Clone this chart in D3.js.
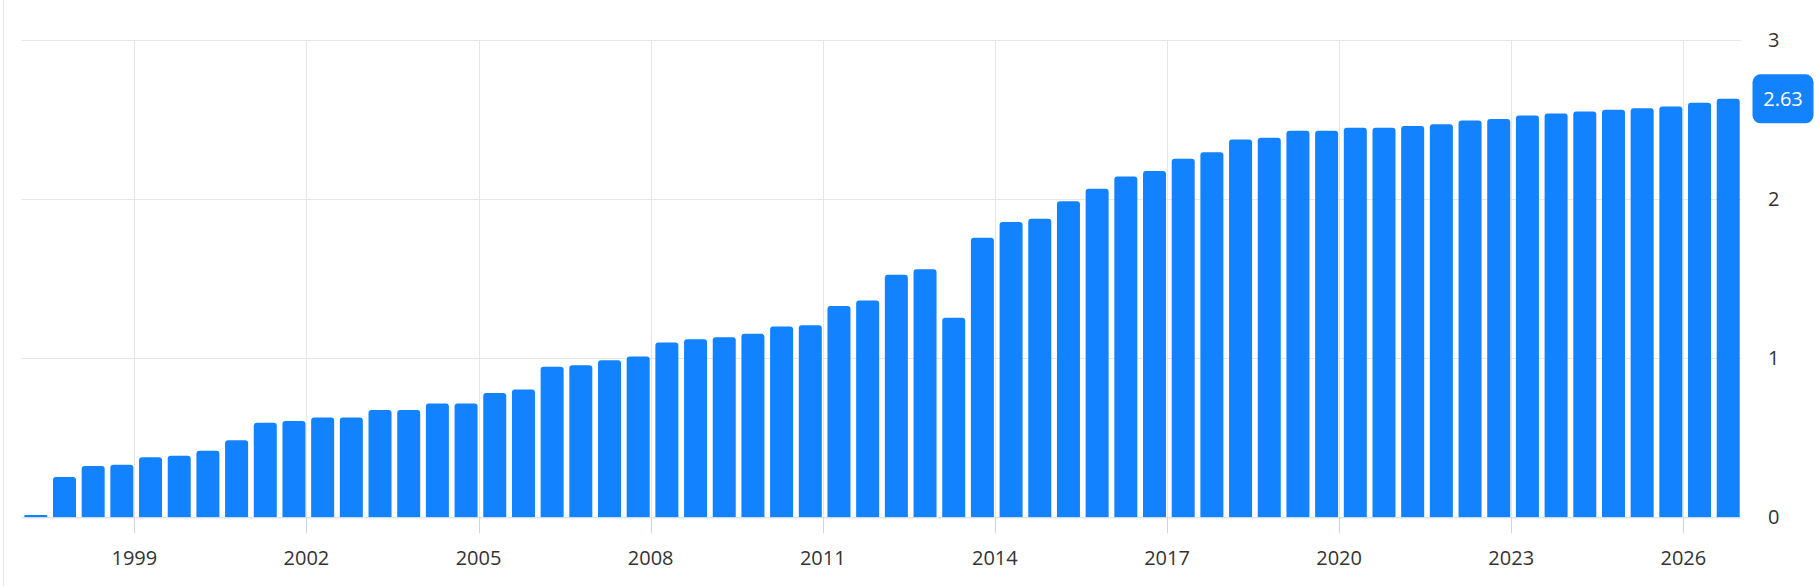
<!DOCTYPE html>
<meta charset="utf-8">
<script src="https://d3js.org/d3.v7.min.js"></script>
<style>
    body { margin: 0; background: #fff; }
    text { font-family: "Open Sans", "Noto Sans", sans-serif; }
</style>
<div id="chart"></div>
<script>

    // half-year periods, 1997 H1 .. 2026 H2
    var periods = [
        "1997 H1", "1997 H2", "1998 H1", "1998 H2", "1999 H1", "1999 H2", "2000 H1", "2000 H2",
        "2001 H1", "2001 H2", "2002 H1", "2002 H2", "2003 H1", "2003 H2", "2004 H1", "2004 H2",
        "2005 H1", "2005 H2", "2006 H1", "2006 H2", "2007 H1", "2007 H2", "2008 H1", "2008 H2",
        "2009 H1", "2009 H2", "2010 H1", "2010 H2", "2011 H1", "2011 H2", "2012 H1", "2012 H2",
        "2013 H1", "2013 H2", "2014 H1", "2014 H2", "2015 H1", "2015 H2", "2016 H1", "2016 H2",
        "2017 H1", "2017 H2", "2018 H1", "2018 H2", "2019 H1", "2019 H2", "2020 H1", "2020 H2",
        "2021 H1", "2021 H2", "2022 H1", "2022 H2", "2023 H1", "2023 H2", "2024 H1", "2024 H2",
        "2025 H1", "2025 H2", "2026 H1", "2026 H2"
    ];

    var values = [
        0.015, 0.253, 0.322, 0.331, 0.377, 0.387, 0.418, 0.485, 0.594, 0.605,
        0.628, 0.628, 0.674, 0.674, 0.715, 0.715, 0.782, 0.803, 0.946, 0.956,
        0.987, 1.010, 1.098, 1.119, 1.132, 1.153, 1.199, 1.207, 1.328, 1.362,
        1.525, 1.559, 1.255, 1.757, 1.856, 1.877, 1.987, 2.065, 2.142, 2.176,
        2.253, 2.295, 2.374, 2.385, 2.429, 2.429, 2.448, 2.448, 2.460, 2.471,
        2.494, 2.504, 2.525, 2.538, 2.550, 2.561, 2.571, 2.582, 2.605, 2.63
    ];

    var xTickYears = [1999, 2002, 2005, 2008, 2011, 2014, 2017, 2020, 2023, 2026];
    var yTicks = [0, 1, 2, 3];
    var lastLabel = "2.63";

    var W = 1819, H = 586;
    var plotLeft = 21.7, plotRight = 1741, plotTop = 40, plotBottom = 517.3;
    var barColor = "#1282ff";
    var gridColor = "#e6e6e6";
    var axisColor = "#ccd6eb";

    var svg = d3.select("#chart")
        .append("svg")
        .attr("width", W)
        .attr("height", H);

    // period "YYYY Hn" -> start time in fractional years
    function periodStart(p) {
        var parts = p.split(" ");
        return +parts[0] + (parts[1] === "H2" ? 0.5 : 0);
    }

    var data = periods.map(function (p, i) { return { period: p, t: periodStart(p), value: values[i] }; });

    var x = d3.scaleLinear().domain([1997, 2027]).range([19.6, 1740.7]);
    var y = d3.scaleLinear().domain([0, 3]).range([plotBottom, plotTop]);

    // outer frame line on the left
    svg.append("line")
        .attr("x1", 3.5).attr("x2", 3.5)
        .attr("y1", 0).attr("y2", H)
        .attr("stroke", gridColor);

    // horizontal grid
    svg.append("g")
        .selectAll("line")
        .data(yTicks.filter(function (d) { return d > 0; }))
        .enter()
        .append("line")
        .attr("x1", plotLeft).attr("x2", plotRight)
        .attr("y1", function (d) { return Math.round(y(d)) + 0.5; })
        .attr("y2", function (d) { return Math.round(y(d)) + 0.5; })
        .attr("stroke", gridColor);

    // vertical grid
    svg.append("g")
        .selectAll("line")
        .data(xTickYears)
        .enter()
        .append("line")
        .attr("x1", function (d) { return Math.round(x(d)) + 0.5; })
        .attr("x2", function (d) { return Math.round(x(d)) + 0.5; })
        .attr("y1", plotTop).attr("y2", plotBottom)
        .attr("stroke", gridColor);

    // bars with rounded top corners
    var gapLeft = 4.7, barW = 23, r = 3;
    function barPath(d) {
        var x0 = x(d.t) + gapLeft, x1 = x0 + barW;
        var y0 = y(d.value), y1 = plotBottom;
        var rr = Math.min(r, (y1 - y0) / 2);
        return "M" + x0 + "," + y1 +
            "V" + (y0 + rr) +
            "Q" + x0 + "," + y0 + " " + (x0 + rr) + "," + y0 +
            "H" + (x1 - rr) +
            "Q" + x1 + "," + y0 + " " + x1 + "," + (y0 + rr) +
            "V" + y1 + "Z";
    }
    svg.append("g")
        .selectAll("path")
        .data(data)
        .enter()
        .append("path")
        .attr("d", barPath)
        .attr("fill", barColor);

    // bottom axis line + ticks
    svg.append("line")
        .attr("x1", plotLeft).attr("x2", plotRight)
        .attr("y1", plotBottom + 0.5).attr("y2", plotBottom + 0.5)
        .attr("stroke", axisColor);

    var xAxis = svg.append("g");
    xAxis.selectAll("line")
        .data(xTickYears)
        .enter()
        .append("line")
        .attr("x1", function (d) { return Math.round(x(d)) + 0.5; })
        .attr("x2", function (d) { return Math.round(x(d)) + 0.5; })
        .attr("y1", plotBottom).attr("y2", plotBottom + 16)
        .attr("stroke", axisColor);
    xAxis.selectAll("text")
        .data(xTickYears)
        .enter()
        .append("text")
        .attr("x", function (d) { return x(d); })
        .attr("y", 565)
        .attr("text-anchor", "middle")
        .attr("font-size", "20px")
        .attr("fill", "#333")
        .text(function (d) { return d; });

    // right value axis labels
    svg.append("g")
        .selectAll("text")
        .data(yTicks)
        .enter()
        .append("text")
        .attr("x", 1768)
        .attr("y", function (d) { return y(d) + 7; })
        .attr("font-size", "20px")
        .attr("fill", "#333")
        .text(function (d) { return d; });

    // last value badge
    var lastY = y(values[values.length - 1]);
    var badge = svg.append("g");
    badge.append("rect")
        .attr("x", 1752.5).attr("y", lastY - 24.5)
        .attr("width", 61).attr("height", 49)
        .attr("rx", 8).attr("ry", 8)
        .attr("fill", barColor);
    badge.append("text")
        .attr("x", 1783)
        .attr("y", lastY + 7)
        .attr("text-anchor", "middle")
        .attr("font-size", "20px")
        .attr("fill", "#fff")
        .text(lastLabel);

</script>
